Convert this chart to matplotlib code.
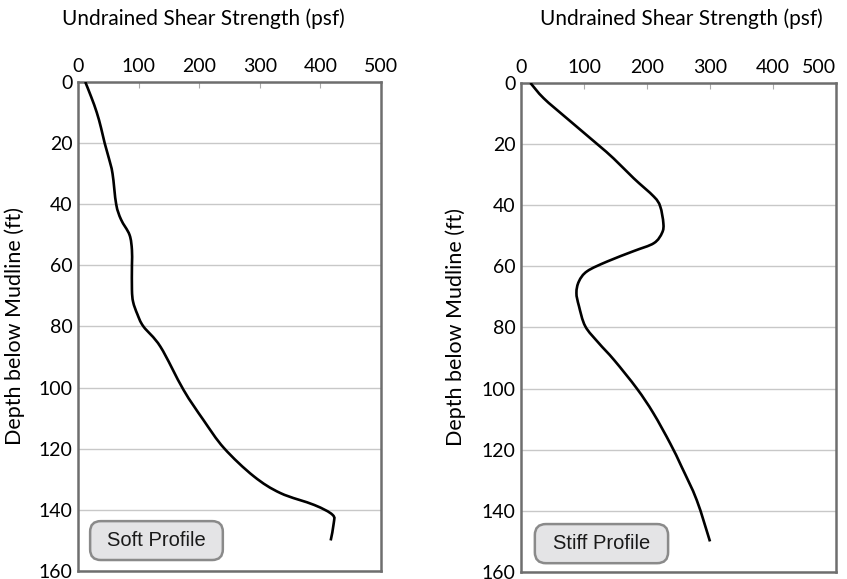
import numpy as np
import matplotlib.pyplot as plt
from matplotlib.patches import FancyBboxPatch, PathPatch
from matplotlib.path import Path

# Soft profile: depth (ft) vs undrained shear strength (psf)
soft_depth = [0, 5, 10, 15, 20, 25, 30, 40, 45, 50, 55, 60, 68, 72, 76, 80, 86.6,
              100.7, 110.6, 119.8, 129, 134.5, 138.4, 141.6, 144.4, 150]
soft_su = [12, 22, 31, 38, 44, 51, 57, 63, 71, 85, 89, 89, 89, 91, 98, 108, 136,
           174, 207, 241, 290, 334, 390, 420, 422, 417]

# Stiff profile
stiff_depth = [0, 5, 11.6, 20, 24.7, 31.2, 37.2, 40.4, 45.9, 49, 52.4, 55, 58.4,
               61.6, 64.9, 68.7, 73, 79.6, 85, 90.7, 100, 108, 118, 125.6, 136.5, 150]
stiff_su = [15, 36, 73, 121, 147, 179, 211, 221, 226, 224, 211, 179, 137,
            105, 92, 88, 92, 102, 123, 148, 184, 210, 237, 255, 279, 300]

x_ticks = [0, 100, 200, 300, 400, 500]
y_ticks = [0, 20, 40, 60, 80, 100, 120, 140, 160]


def smooth_path(x, y):
    # Catmull-Rom through the points, written as cubic bezier segments
    p = np.column_stack([x, y]).astype(float)
    ext = np.vstack([p[0], p, p[-1]])
    verts = [p[0]]
    codes = [Path.MOVETO]
    for i in range(1, len(ext) - 2):
        p0, p1, p2, p3 = ext[i - 1], ext[i], ext[i + 1], ext[i + 2]
        verts += [p1 + (p2 - p0) / 6, p2 - (p3 - p1) / 6, p2]
        codes += [Path.CURVE4] * 3
    return Path(verts, codes)


panels = [
    (soft_su, soft_depth, "Soft Profile", [0.0921, 0.0138, 0.3577, 0.8446],
     (0.040, 0.0225, 0.438, 0.0795)),
    (stiff_su, stiff_depth, "Stiff Profile", [0.6151, 0.0121, 0.3719, 0.8446],
     (0.044, 0.018, 0.423, 0.080)),
]

font = "Lato"
fig = plt.figure(figsize=(8.47, 5.79), dpi=100)

for k, (su, depth, name, rect, box) in enumerate(panels):
    ax = fig.add_axes(rect)
    ax.add_patch(PathPatch(smooth_path(su, depth), facecolor="none",
                           edgecolor="black", lw=1.9, zorder=3))
    ax.set_xlim(0, 500)
    ax.set_ylim(160, 0)
    ax.set_xticks(x_ticks)
    ax.set_yticks(y_ticks)
    ax.xaxis.tick_top()
    ax.tick_params(axis="x", direction="in", length=4, color="#aaaaaa",
                   labelsize=14, pad=5)
    ax.tick_params(axis="y", length=0, labelsize=14, pad=4)
    for lab in ax.get_xticklabels() + ax.get_yticklabels():
        lab.set_fontfamily(font)
    if k == 1:
        # keep the last top label inside the figure
        ax.get_xticklabels()[-1].set_horizontalalignment("right")
    ax.grid(axis="y", color="#c8c8c8", lw=1.0)
    ax.set_axisbelow(True)
    for sp in ax.spines.values():
        sp.set_color("#6e6e6e")
        sp.set_linewidth(1.8)
    ax.set_ylabel("Depth below Mudline (ft)", fontsize=15.5, fontfamily=font)
    ax.yaxis.set_label_coords(-0.176, 0.5)

    # rounded label box in the lower-left corner
    bx, by, bw, bh = box
    pos = ax.get_position()
    aspect = (pos.width * 847) / (pos.height * 579)
    ax.add_patch(FancyBboxPatch((bx, by), bw, bh, transform=ax.transAxes,
                                boxstyle="round,pad=0,rounding_size=0.035",
                                mutation_aspect=aspect,
                                facecolor="#e4e4e6", edgecolor="#8a8a8a",
                                lw=1.8, zorder=5))
    ax.text(bx + bw / 2, by + bh / 2, name, transform=ax.transAxes,
            ha="center", va="center", fontsize=14.5,
            fontfamily="Liberation Sans", color="#1a1a1a", zorder=6)

# axis titles above the tick labels
fig.text(203.5 / 847, 1 - 19 / 579, "Undrained Shear Strength (psf)",
         ha="center", va="center", fontsize=15, fontfamily=font)
fig.text(681 / 847, 1 - 19 / 579, "Undrained Shear Strength (psf)",
         ha="center", va="center", fontsize=15, fontfamily=font)

fig.savefig("out.png", dpi=100)
